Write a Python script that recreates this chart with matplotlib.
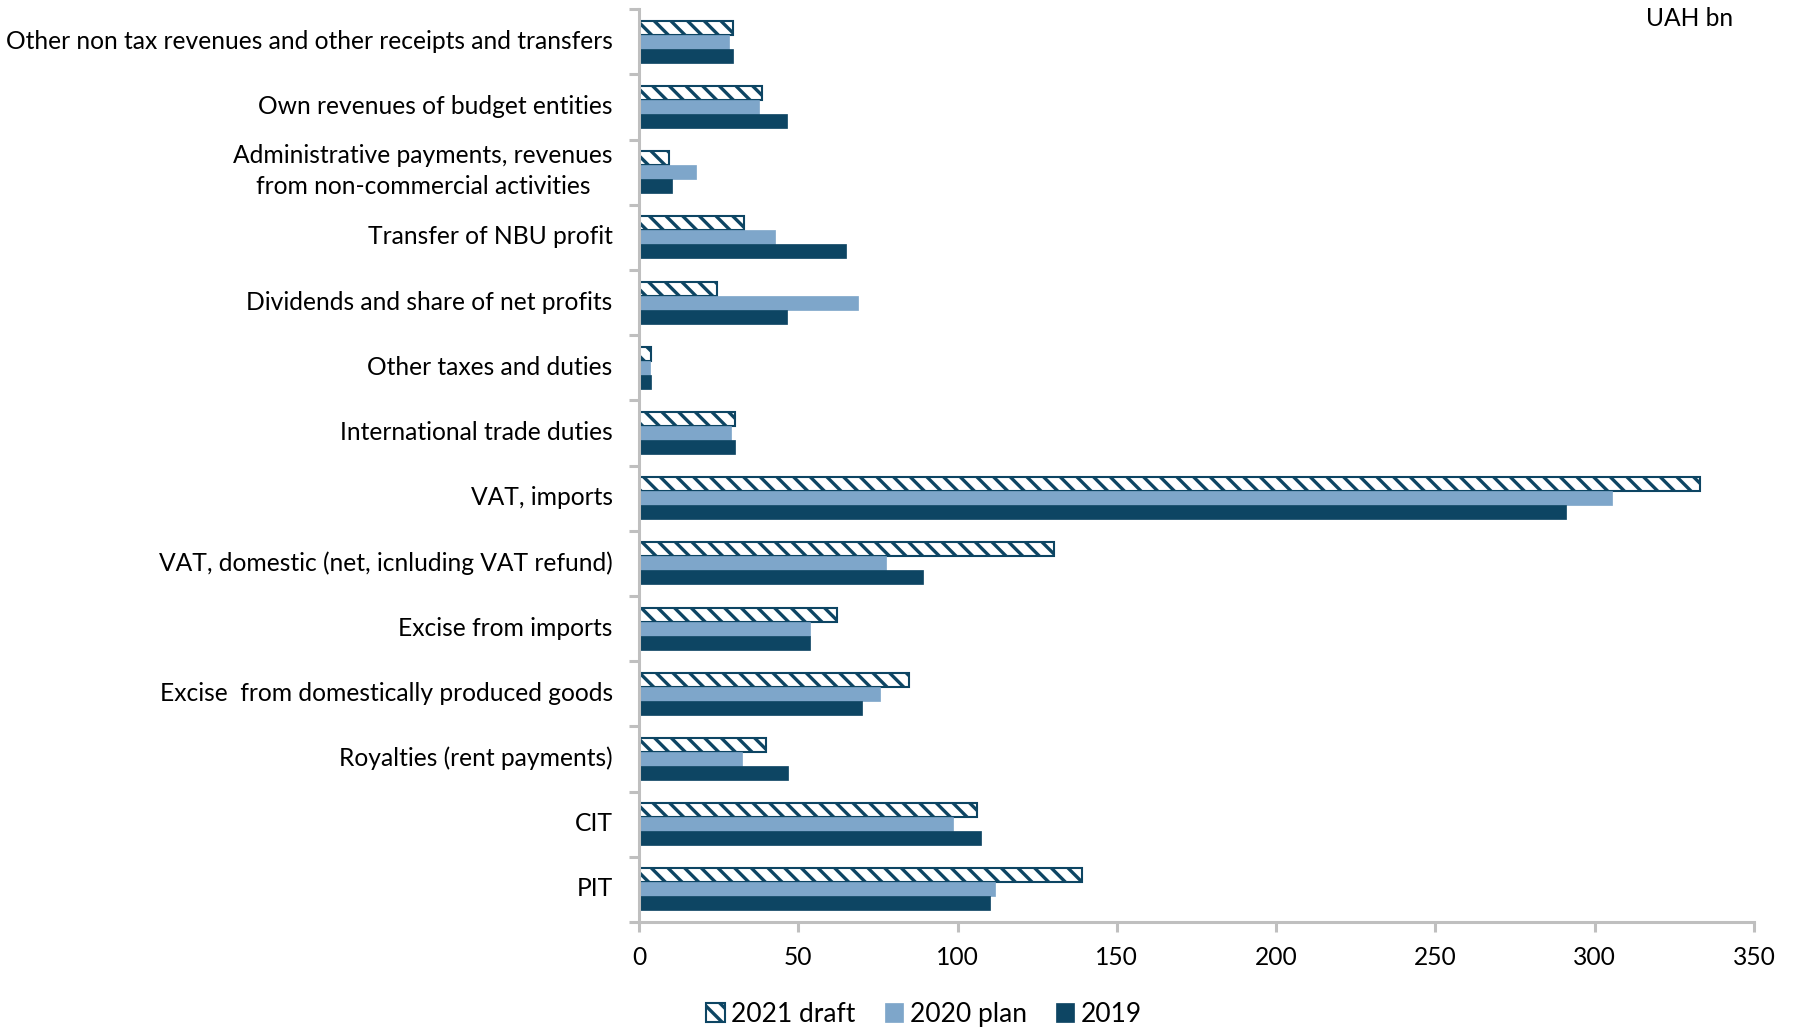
import matplotlib
matplotlib.use("Agg")
import matplotlib.pyplot as plt
import matplotlib.transforms as mtransforms
import numpy as np

categories = [
    "PIT",
    "CIT",
    "Royalties (rent payments)",
    "Excise  from domestically produced goods",
    "Excise from imports",
    "VAT, domestic (net, icnluding VAT refund)",
    "VAT, imports",
    "International trade duties",
    "Other taxes and duties",
    "Dividends and share of net profits",
    "Transfer of NBU profit",
    "Administrative payments, revenues\nfrom non-commercial activities",
    "Own revenues of budget entities",
    "Other non tax revenues and other receipts and transfers",
]
draft_2021 = [139.2, 106.0, 39.9, 84.9, 62.2, 130.4, 333.2, 30.1, 3.8, 24.5, 33.0, 9.5, 38.6, 29.6]
plan_2020 = [111.6, 98.5, 32.4, 75.5, 53.6, 77.6, 305.3, 28.8, 3.4, 68.7, 42.7, 17.8, 37.6, 28.2]
actual_2019 = [110.3, 107.3, 46.7, 70.1, 53.6, 89.1, 290.9, 30.1, 3.8, 46.4, 65.0, 10.4, 46.5, 29.6]
xticks = [0, 50, 100, 150, 200, 250, 300, 350]

dark = "#0D4563"
light = "#7EA6CA"
gray = "#BFBFBF"

plt.rcParams['font.family'] = ['Lato', 'DejaVu Sans']
plt.rcParams['hatch.linewidth'] = 2.4
plt.rcParams['hatch.color'] = dark

fs = 17.7
fig = plt.figure(figsize=(17.94, 10.28), dpi=100)
ax = fig.add_axes([0.3562, 0.1031, 0.9777 - 0.3562, 0.991 - 0.1031])

y = np.arange(len(categories))
h = 0.215
b1 = ax.barh(y + h, draft_2021, height=h, color="white", edgecolor=dark,
             hatch="\\\\", linewidth=1.5, label="2021 draft")
b2 = ax.barh(y, plan_2020, height=h, color=light, edgecolor=light, linewidth=0.5, label="2020 plan")
b3 = ax.barh(y - h, actual_2019, height=h, color=dark, edgecolor=dark, linewidth=0.5, label="2019")

ax.set_xlim(0, 350)
ax.set_ylim(-0.5, len(categories) - 0.5)
ax.set_xticks(xticks)
ax.set_xticklabels([str(t) for t in xticks], fontsize=fs)
ax.set_yticks(y)
ax.set_yticklabels(categories, fontsize=fs, multialignment='center', linespacing=1.45)
ax.set_yticks(np.arange(-0.5, len(categories), 1.0), minor=True)
ax.tick_params(axis='y', which='major', length=0, pad=19)
ax.tick_params(axis='y', which='minor', length=7, width=2.2, color=gray, direction='out')
ax.tick_params(axis='x', which='major', length=7, width=2.2, color=gray, direction='out', pad=10)

for lbl in ax.get_yticklabels():
    dy = 0.075 if "\n" in lbl.get_text() else 0.025
    lbl.set_transform(lbl.get_transform() +
                      mtransforms.ScaledTranslation(0, dy, fig.dpi_scale_trans))

for s in ['top', 'right']:
    ax.spines[s].set_visible(False)
for s in ['left', 'bottom']:
    ax.spines[s].set_color(gray)
    ax.spines[s].set_linewidth(2.2)

fig.text(0.966, 0.982, "UAH bn", ha='right', va='center', fontsize=fs)

fig.legend(handles=[b1, b2, b3], loc='center', bbox_to_anchor=(924 / 1794, 0.0136),
           ncol=3, frameon=False, fontsize=19, handlelength=0.7, handleheight=0.7,
           handletextpad=0.25, columnspacing=1.1)

fig.savefig("out.png", dpi=100)
